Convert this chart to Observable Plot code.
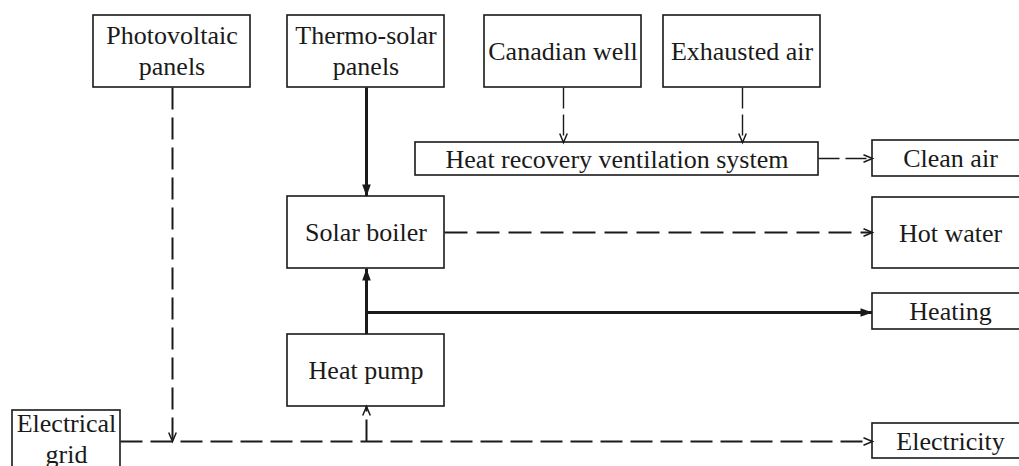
<!DOCTYPE html>
<html><head><meta charset="utf-8">
<script src="https://cdn.jsdelivr.net/npm/d3@7"></script>
<script src="https://cdn.jsdelivr.net/npm/@observablehq/plot@0.6"></script>
<style>html,body{margin:0;padding:0;background:#fff;overflow:hidden}</style>
</head><body><div id="chart"></div>
<script>
const W = 1019, H = 466;

// Nodes of the diagram (diagram coordinate space, 0..1019 x 0..466)
const nodeLabels = ["Photovoltaic\npanels", "Thermo-solar\npanels", "Canadian well", "Exhausted air",
  "Heat recovery ventilation system", "Clean air", "Solar boiler", "Hot water", "Heating",
  "Heat pump", "Electricity", "Electrical\ngrid"];
const nodeX1 = [93, 287, 484, 663, 415, 872, 287, 872, 872, 287, 872, 12];
const nodeX2 = [250, 444, 641, 820, 818, 1028, 444, 1028, 1028, 444, 1028, 120];
const nodeY1 = [15, 15, 15, 15, 142, 140, 196, 197, 293, 334, 423, 410];
const nodeY2 = [87, 87, 87, 87, 175, 176, 268, 268, 329, 406, 458, 468];

// Flows between nodes
const flowX1 = [172, 366, 563, 742, 818, 444, 366, 366, 120, 366];
const flowY1 = [87, 87, 87, 87, 158, 232, 334, 312, 441, 441];
const flowX2 = [172, 366, 563, 742, 872, 872, 366, 872, 872, 366];
const flowY2 = [441, 196, 142, 142, 158, 232, 268, 312, 441, 406];
const flowKind = ["electric", "heat", "air", "air", "air", "water", "heat", "heat", "electric", "electric"];

const nodes = nodeLabels.map((label, i) => ({label, x1: nodeX1[i], x2: nodeX2[i], y1: nodeY1[i], y2: nodeY2[i],
  multi: label.includes("\n")}));
const flows = flowKind.map((kind, i) => ({kind, x1: flowX1[i], y1: flowY1[i], x2: flowX2[i], y2: flowY2[i],
  angle: Math.atan2(flowY2[i] - flowY1[i], flowX2[i] - flowX1[i]) * 180 / Math.PI}));

const ink = "#1a1a1a";
const filledHead = {draw(ctx, size) { const L = Math.sqrt(size / Math.PI), w = L * 0.36;
  ctx.moveTo(0, 0); ctx.lineTo(-L, -w); ctx.lineTo(-L, w); ctx.closePath(); }};
const openHead = {draw(ctx, size) { const L = Math.sqrt(size / Math.PI), w = L * 0.42;
  ctx.moveTo(-L, -w); ctx.lineTo(0, 0); ctx.lineTo(-L, w); }};

const styles = {
  heat: {strokeWidth: 3, dash: null},
  electric: {strokeWidth: 2, dash: "22,8"},
  water: {strokeWidth: 2, dash: "23,9"},
  air: {strokeWidth: 1.4, dash: "21,6"}
};

const linkMarks = Object.entries(styles).map(([k, s]) =>
  Plot.link(flows.filter(d => d.kind === k), {x1: "x1", y1: "y1", x2: "x2", y2: "y2",
    stroke: ink, strokeWidth: s.strokeWidth, strokeDasharray: s.dash, strokeLinecap: "butt"}));

const textOpts = {x: d => (d.x1 + d.x2) / 2, y: d => (d.y1 + d.y2) / 2, text: "label",
  fontFamily: "Liberation Serif", fontSize: 26, lineHeight: 1.19, fill: ink, textAnchor: "middle"};

const chart = Plot.plot({
  width: W, height: H,
  margin: 0,
  x: {domain: [0, W], range: [0, W], axis: null},
  y: {domain: [0, H], range: [0, H], axis: null},
  style: {background: "#fff", overflow: "hidden"},
  marks: [
    ...linkMarks,
    Plot.rect(nodes, {x1: "x1", x2: "x2", y1: "y1", y2: "y2", fill: "#fff", stroke: ink, strokeWidth: 1.6, clip: true}),
    Plot.dot(flows.filter(d => d.kind === "heat"), {x: "x2", y: "y2", rotate: "angle", r: 12,
      symbol: filledHead, fill: ink, stroke: "none"}),
    Plot.dot(flows.filter(d => d.kind !== "heat"), {x: "x2", y: "y2", rotate: "angle", r: 9,
      symbol: openHead, fill: "none", stroke: ink, strokeWidth: 1.5}),
    Plot.text(nodes.filter(d => !d.multi), {...textOpts, dy: -1}),
    Plot.text(nodes.filter(d => d.multi), {...textOpts, dy: -2})
  ]
});
document.getElementById("chart").appendChild(chart);
</script>
</body></html>
